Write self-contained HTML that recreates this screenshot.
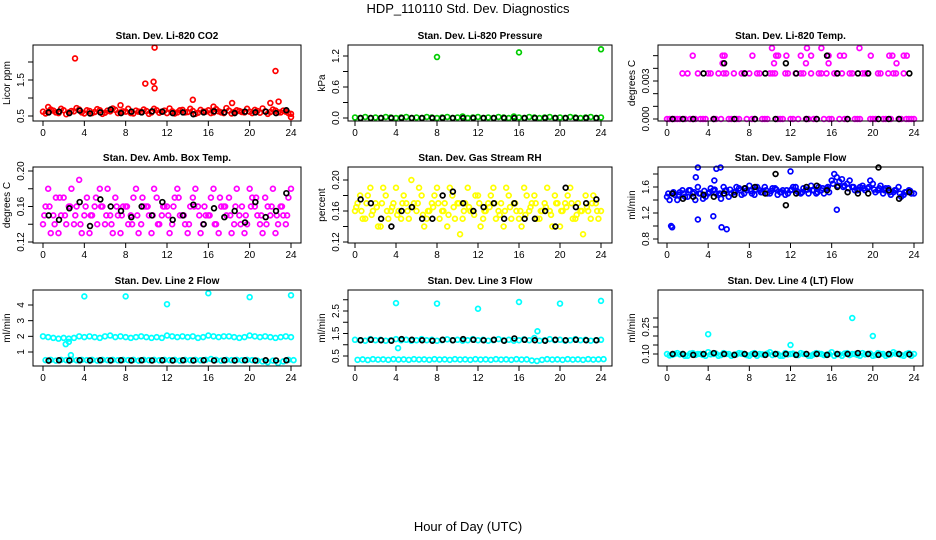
<!DOCTYPE html>
<html><head><meta charset="utf-8"><style>
body{margin:0;background:#fff}
svg{display:block;font-family:"Liberation Sans",sans-serif}
</style></head><body>
<svg id="chart" width="936" height="540" viewBox="0 0 936 540">
<text x="468" y="13" text-anchor="middle" font-size="13">HDP_110110  Std. Dev. Diagnostics</text>
<text x="468" y="531" text-anchor="middle" font-size="13">Hour of Day (UTC)</text>
</svg>
<script>
const xTicks=[0,4,8,12,16,20,24];
// Panel 1 CO2
const co2A=[0.62,0.6,0.65,0.58,0.66,0.6,0.63,0.68,0.57,0.64,0.61,0.66,0.59,0.63,0.67,0.6,0.62,0.58,0.65,0.61,0.64,0.6,0.66,0.62,0.58,0.63,0.6,0.67,0.61,0.64,0.59,0.62,0.66,0.6,0.63,0.58,0.65,0.61,0.64,0.6,0.62,0.67,0.59,0.63,0.61,0.65,0.6,0.62,0.56];
const co2B=[0.57,0.68,0.6,0.7,0.55,0.64,0.72,0.6,0.66,0.58,0.69,0.56,0.65,0.71,0.58,0.63,0.7,0.57,0.62,0.68,0.56,0.7,0.59,0.65,0.71,0.57,0.66,0.6,0.7,0.56,0.67,0.62,0.58,0.69,0.6,0.72,0.57,0.66,0.61,0.7,0.58,0.64,0.71,0.56,0.68,0.6,0.65,0.58];
const co2OutH=[3.1,10.8,9.9,10.7,10.8,14.5,22.5,22.8,22,18.3,7.5,24,0.5,16.5];
const co2OutV=[2.1,2.4,1.4,1.45,1.27,0.95,1.75,0.9,0.86,0.86,0.8,0.47,0.75,0.76];
const co2K=[0.6,0.62,0.58,0.65,0.57,0.6,0.68,0.58,0.62,0.6,0.63,0.62,0.58,0.6,0.55,0.6,0.63,0.6,0.58,0.62,0.6,0.62,0.58,0.66];
// Panel 2 pressure
const prA=[0.01,0,0.02,0,0.01,0,0.02,0.01,0,0.01,0.02,0,0.01,0,0.02,0.01,0,0.01,0.02,0,0.01,0.03,0,0.01,0.02,0,0.01,0,0.02,0.01,0,0.03,0.01,0,0.02,0.01,0,0.01,0.02,0,0.01,0,0.02,0.01,0,0.01,0.02,0,0.01];
const prOutH=[8,16,24];
const prOutV=[1.18,1.27,1.33];
const prK=[0,0,0,0,0,0,0,0,0,0,0,0,0,0,0,0,0,0,0,0,0,0,0,0];
// Panel 3 temp
const tpA=[0,0,0,0.0036,0.0036,0,0.0036,0,0.0036,0,0.0036,0.0036,0,0.0036,0,0.0036,0.0036,0,0.0036,0,0.0036,0.0036,0,0.0036,0,0.0036,0.0036,0,0.0036,0,0.0036,0.0036,0,0.0036,0.0036,0,0.0036,0,0.0036,0.0036,0,0.0036,0,0.0036,0.0036,0,0.0036,0,0];
const tpB=[0,0,0,0,0,0,0,0,0.0036,0,0,0.0036,0,0,0.0036,0,0,0.0036,0,0,0.0036,0,0,0.0036,0,0,0.0036,0,0,0.0036,0,0,0.0036,0,0,0.0036,0,0,0.0036,0,0,0.0036,0,0,0.0036,0,0,0];
const tpOutH=[2.5,5.4,5.6,8.3,10.6,10.8,11.6,13,14,15.7,16.8,17.2,19.8,21.6,21.9,23,23.3,10.2,13.6,15,18.7,5.4,10.4,13.5,15.7,22.3];
const tpOutV=[0.005,0.005,0.005,0.005,0.005,0.005,0.005,0.005,0.005,0.005,0.005,0.005,0.005,0.005,0.005,0.005,0.005,0.0056,0.0056,0.0056,0.0056,0.0044,0.0044,0.0044,0.0044,0.0044];
const tpK=[0,0,0,0.0036,0,0.0044,0,0.0036,0,0.0036,0,0.0044,0.0036,0,0,0.005,0.0036,0,0.0036,0.0036,0,0,0,0.0036];
// Panel 4 amb box
const abA=[0.14,0.18,0.15,0.13,0.17,0.16,0.14,0.19,0.15,0.13,0.16,0.18,0.14,0.15,0.17,0.13,0.16,0.15,0.18,0.14,0.16,0.13,0.17,0.15,0.16,0.14,0.18,0.15,0.13,0.17,0.16,0.14,0.15,0.18,0.13,0.16,0.17,0.14,0.15,0.13,0.18,0.16,0.14,0.17,0.15,0.13,0.16,0.14,0.18];
const abB=[0.16,0.13,0.17,0.15,0.14,0.18,0.16,0.13,0.17,0.15,0.14,0.16,0.18,0.13,0.15,0.16,0.14,0.17,0.13,0.16,0.15,0.18,0.14,0.16,0.13,0.17,0.15,0.14,0.16,0.18,0.13,0.15,0.17,0.14,0.16,0.15,0.13,0.18,0.16,0.14,0.17,0.15,0.13,0.16,0.18,0.14,0.15,0.17];
const abC=[0.15,0.16,0.14,0.17,0.15,0.16,0.15,0.14,0.16,0.15,0.17,0.16,0.15,0.14,0.16,0.15,0.16,0.14,0.15,0.17,0.16,0.15,0.14,0.16,0.15,0.16,0.17,0.15,0.14,0.16,0.15,0.16,0.15,0.14,0.17,0.16,0.15,0.16,0.14,0.15,0.16,0.17,0.15,0.14,0.16,0.15,0.16,0.15];
const abK=[0.15,0.145,0.158,0.165,0.138,0.168,0.16,0.155,0.148,0.16,0.15,0.165,0.145,0.15,0.162,0.14,0.158,0.148,0.155,0.142,0.165,0.148,0.155,0.175];
// Panel 5 RH
const rhA=[0.16,0.18,0.15,0.19,0.17,0.14,0.18,0.16,0.19,0.15,0.17,0.2,0.16,0.18,0.15,0.17,0.19,0.16,0.14,0.18,0.17,0.15,0.19,0.16,0.18,0.15,0.17,0.19,0.16,0.14,0.18,0.17,0.15,0.19,0.16,0.18,0.15,0.17,0.16,0.18,0.14,0.17,0.19,0.15,0.16,0.18,0.15,0.17,0.16];
const rhB=[0.17,0.15,0.18,0.16,0.14,0.19,0.15,0.17,0.16,0.18,0.15,0.17,0.19,0.14,0.16,0.18,0.15,0.17,0.19,0.15,0.13,0.17,0.16,0.18,0.14,0.16,0.18,0.15,0.17,0.19,0.15,0.16,0.14,0.18,0.17,0.15,0.16,0.19,0.14,0.17,0.16,0.18,0.15,0.17,0.13,0.16,0.18,0.15];
const rhC=[0.165,0.16,0.17,0.155,0.165,0.17,0.16,0.165,0.155,0.17,0.16,0.165,0.17,0.155,0.16,0.165,0.17,0.16,0.155,0.165,0.17,0.16,0.165,0.155,0.17,0.16,0.165,0.17,0.155,0.16,0.165,0.17,0.16,0.155,0.165,0.17,0.16,0.165,0.155,0.17,0.16,0.165,0.17,0.155,0.16,0.165,0.17,0.16];
const rhK=[0.175,0.17,0.15,0.14,0.16,0.165,0.15,0.15,0.18,0.185,0.17,0.16,0.165,0.17,0.15,0.17,0.15,0.15,0.16,0.14,0.19,0.165,0.17,0.175];
// Panel 6 sample flow
const sfA=[1.45,1.5,1.4,1.55,1.45,1.5,1.6,1.42,1.5,1.55,1.48,1.6,1.45,1.52,1.58,1.5,1.62,1.48,1.55,1.6,1.5,1.58,1.52,1.48,1.55,1.6,1.5,1.56,1.62,1.5,1.55,1.58,1.7,1.75,1.72,1.65,1.6,1.55,1.62,1.58,1.65,1.55,1.5,1.58,1.52,1.6,1.48,1.55,1.5];
const sfB=[1.4,1.48,1.52,1.45,1.55,1.4,1.5,1.45,1.58,1.5,1.42,1.55,1.5,1.6,1.48,1.55,1.5,1.6,1.52,1.5,1.58,1.48,1.55,1.5,1.6,1.52,1.58,1.5,1.55,1.6,1.5,1.52,1.8,1.68,1.62,1.7,1.55,1.6,1.55,1.7,1.52,1.62,1.58,1.48,1.55,1.45,1.52,1.5];
const sfC=[1.5,1.52,1.48,1.5,1.55,1.52,1.5,1.54,1.52,1.56,1.5,1.54,1.56,1.52,1.55,1.58,1.54,1.56,1.52,1.55,1.54,1.56,1.52,1.55,1.56,1.54,1.52,1.56,1.55,1.52,1.58,1.6,1.65,1.62,1.6,1.58,1.6,1.56,1.58,1.6,1.56,1.58,1.55,1.52,1.55,1.5,1.52,1.54];
const sfOutH=[0.4,0.5,5.3,5.8,3,4.5,4.8,5.2,3,4.6,2.8,12,16.5];
const sfOutV=[1.0,0.98,0.98,0.95,1.1,1.15,1.88,1.9,1.9,1.7,1.75,1.84,1.25];
const sfK=[1.5,1.42,1.45,1.48,1.45,1.5,1.48,1.58,1.6,1.5,1.8,1.32,1.5,1.6,1.62,1.55,1.6,1.52,1.5,1.5,1.9,1.55,1.42,1.52];
// Panel 7 line 2
const l2A=[2.0,1.95,1.9,1.85,1.9,1.85,1.9,2.0,1.95,2.0,1.95,1.9,2.0,2.05,1.95,2.0,1.95,1.9,1.95,2.0,1.95,1.9,1.95,1.9,2.05,2.0,1.95,2.0,1.95,2.0,1.9,1.95,2.05,2.0,1.95,2.0,2.0,1.95,1.9,1.95,2.05,2.0,1.95,2.0,1.95,1.9,1.95,2.0,1.95];
const l2B=[0.48,0.5,0.45,0.5,0.48,0.5,0.47,0.5,0.48,0.5,0.45,0.5,0.48,0.5,0.47,0.5,0.48,0.5,0.45,0.5,0.48,0.5,0.47,0.5,0.48,0.5,0.45,0.5,0.48,0.5,0.47,0.5,0.55,0.5,0.45,0.5,0.48,0.5,0.47,0.5,0.48,0.45,0.4,0.35,0.45,0.3,0.4,0.5,0.48];
const l2OutH=[4,8,12,16,20,24,2.2,2.5,2.7];
const l2OutV=[4.55,4.55,4.05,4.75,4.5,4.62,1.5,1.65,0.8];
const l2K=[0.45,0.47,0.46,0.47,0.46,0.47,0.46,0.47,0.46,0.47,0.46,0.47,0.46,0.47,0.46,0.47,0.46,0.47,0.46,0.47,0.46,0.47,0.46,0.47];
// Panel 8 line 3
const l3A=[1.22,1.2,1.18,1.25,1.2,1.22,1.18,1.2,1.25,1.2,1.22,1.18,1.2,1.25,1.2,1.22,1.18,1.2,1.24,1.2,1.22,1.18,1.2,1.25,1.2,1.22,1.18,1.2,1.25,1.2,1.22,1.18,1.2,1.24,1.2,1.3,1.18,1.2,1.25,1.2,1.22,1.18,1.2,1.25,1.2,1.22,1.18,1.2,1.22];
const l3B=[0.33,0.35,0.32,0.36,0.34,0.35,0.33,0.36,0.34,0.35,0.33,0.36,0.34,0.35,0.33,0.36,0.34,0.35,0.33,0.36,0.34,0.35,0.33,0.36,0.34,0.35,0.33,0.36,0.34,0.35,0.33,0.36,0.34,0.35,0.3,0.28,0.33,0.36,0.34,0.35,0.33,0.36,0.34,0.35,0.33,0.36,0.34,0.35,0.36];
const l3OutH=[4,8,12,16,20,24,17.8,4.2];
const l3OutV=[2.85,2.83,2.6,2.9,2.83,2.95,1.6,0.85];
const l3K=[1.2,1.22,1.2,1.18,1.25,1.22,1.2,1.18,1.22,1.2,1.25,1.22,1.2,1.22,1.18,1.28,1.22,1.2,1.18,1.22,1.2,1.22,1.2,1.2];
// Panel 9 line 4
const l4A=[0.1,0.095,0.105,0.1,0.09,0.105,0.1,0.095,0.11,0.1,0.09,0.105,0.1,0.095,0.105,0.1,0.09,0.105,0.1,0.095,0.11,0.1,0.09,0.105,0.1,0.095,0.105,0.1,0.09,0.105,0.1,0.095,0.11,0.1,0.09,0.105,0.1,0.095,0.105,0.1,0.09,0.105,0.1,0.095,0.11,0.1,0.09,0.105,0.1];
const l4B=[0.092,0.1,0.098,0.09,0.102,0.095,0.1,0.09,0.098,0.102,0.094,0.1,0.09,0.098,0.102,0.094,0.1,0.09,0.098,0.102,0.094,0.1,0.09,0.098,0.102,0.094,0.1,0.09,0.098,0.102,0.094,0.1,0.09,0.098,0.102,0.094,0.1,0.09,0.098,0.102,0.094,0.1,0.09,0.098,0.102,0.094,0.1,0.09];
const l4OutH=[4,12,18,20];
const l4OutV=[0.21,0.15,0.3,0.2];
const l4K=[0.1,0.1,0.095,0.1,0.105,0.1,0.095,0.1,0.1,0.095,0.1,0.1,0.095,0.1,0.1,0.095,0.1,0.1,0.105,0.1,0.095,0.1,0.1,0.098];

const cols=[{l:33,r:301,x0:43,x24:291},{l:348,r:612,x0:355,x24:601},{l:658,r:923,x0:667,x24:914}];
const rows=[{t:45,b:121},{t:167,b:243},{t:290,b:366}];
const panels=[
{name:'co2',title:'Stan. Dev. Li-820 CO2',yt:'Licor ppm',c:0,r:0,v0:0.5,p0:116,v1:1.5,p1:80,ticks:[0.5,1,1.5,2],labs:['0.5','','1.5',''],col:'#ff0000',sets:[co2A,co2B],oh:co2OutH,ov:co2OutV,k:co2K},
{name:'pressure',title:'Stan. Dev. Li-820 Pressure',yt:'kPa',c:1,r:0,v0:0,p0:118,v1:1.2,p1:56,ticks:[0,0.3,0.6,0.9,1.2],labs:['0.0','','0.6','','1.2'],col:'#00cc00',sets:[prA],oh:prOutH,ov:prOutV,k:prK},
{name:'temp',title:'Stan. Dev. Li-820 Temp.',yt:'degrees C',c:2,r:0,v0:0,p0:119,v1:0.003,p1:81,ticks:[0,0.001,0.002,0.003,0.004,0.005],labs:['0.000','','','0.003','',''],col:'#ff00ff',sets:[tpA,tpB],oh:tpOutH,ov:tpOutV,k:tpK},
{name:'ambbox',title:'Stan. Dev. Amb. Box Temp.',yt:'degrees C',c:0,r:1,v0:0.12,p0:242,v1:0.2,p1:171,ticks:[0.12,0.14,0.16,0.18,0.2],labs:['0.12','','0.16','','0.20'],col:'#ff00ff',sets:[abA,abB,abC],oh:[],ov:[],k:abK},
{name:'rh',title:'Stan. Dev. Gas Stream RH',yt:'percent',c:1,r:1,v0:0.12,p0:242,v1:0.2,p1:180,ticks:[0.12,0.14,0.16,0.18,0.2],labs:['0.12','','0.16','','0.20'],col:'#ffff00',sets:[rhA,rhB,rhC],oh:[],ov:[],k:rhK},
{name:'sampleflow',title:'Stan. Dev. Sample Flow',yt:'ml/min',c:2,r:1,v0:0.8,p0:239,v1:1.6,p1:187,ticks:[0.8,1.0,1.2,1.4,1.6,1.8],labs:['0.8','','1.2','','1.6',''],col:'#0000ff',sets:[sfA,sfB,sfC],oh:sfOutH,ov:sfOutV,k:sfK},
{name:'line2',title:'Stan. Dev. Line 2 Flow',yt:'ml/min',c:0,r:2,v0:1,p0:352,v1:4,p1:305,ticks:[1,2,3,4],labs:['1','2','3','4'],col:'#00ffff',sets:[l2A,l2B],oh:l2OutH,ov:l2OutV,k:l2K},
{name:'line3',title:'Stan. Dev. Line 3 Flow',yt:'ml/min',c:1,r:2,v0:0.5,p0:356,v1:2.5,p1:311,ticks:[0.5,1,1.5,2,2.5,3],labs:['0.5','','1.5','','2.5',''],col:'#00ffff',sets:[l3A,l3B],oh:l3OutH,ov:l3OutV,k:l3K},
{name:'line4',title:'Stan. Dev. Line 4 (LT) Flow',yt:'ml/min',c:2,r:2,v0:0.1,p0:354,v1:0.25,p1:327,ticks:[0.1,0.15,0.2,0.25,0.3],labs:['0.10','','','0.25',''],col:'#00ffff',sets:[l4A,l4B],oh:l4OutH,ov:l4OutV,k:l4K}
];
const svg=document.getElementById('chart');
const NS='http://www.w3.org/2000/svg';
function mk(tag,attrs,parent){const e=document.createElementNS(NS,tag);for(const a in attrs)e.setAttribute(a,attrs[a]);parent.appendChild(e);return e;}
const offs=[0,0.25,0.125];
panels.forEach(p=>{
  const C=cols[p.c],R=rows[p.r];
  const g=mk('g',{},svg);
  
  
  const xs=h=>C.x0+(C.x24-C.x0)*h/24;
  const ys=v=>p.p0+(p.p1-p.p0)*(v-p.v0)/(p.v1-p.v0);
  const t=mk('text',{x:(C.l+C.r)/2,y:R.t-6,'text-anchor':'middle','font-size':10,'font-weight':'bold'},g);
  t.textContent=p.title;
  
  
  const pts=mk('g',{fill:'none','stroke-width':1.7},g);
  
  
  function dot(h,v,col){const c=mk('circle',{cx:xs(h),cy:ys(v),r:2.4,stroke:col},pts);
    
    }
  p.sets.forEach((s,si)=>s.forEach((v,i)=>dot(i*0.5+offs[si],v,p.col)));
  p.oh.forEach((h,i)=>dot(h,p.ov[i],p.col));
  p.k.forEach((v,i)=>dot(i+0.55,v,'#000'));
  const box=mk('rect',{x:C.l,y:R.t,width:C.r-C.l,height:R.b-R.t,fill:'none',stroke:'#000','stroke-width':1},g);
  
  
  xTicks.forEach(h=>{
    mk('line',{x1:xs(h),x2:xs(h),y1:R.b,y2:R.b+5,stroke:'#000'},g);
    const tx=mk('text',{x:xs(h),y:R.b+15,'text-anchor':'middle','font-size':10},g);
    tx.textContent=h;
    
    
  });
  p.ticks.forEach((v,i)=>{
    const y=ys(v); if(y<R.t-1)return;
    mk('line',{x1:C.l-5,x2:C.l,y1:y,y2:y,stroke:'#000'},g);
    if(p.labs[i]){const ty=mk('text',{x:C.l-9,y:y,'text-anchor':'middle','font-size':10,transform:`rotate(-90 ${C.l-9} ${y})`},g);
      ty.textContent=p.labs[i];
      
      }
  });
  const cy=(R.t+R.b)/2;
  const yt=mk('text',{x:C.l-23,y:cy,'text-anchor':'middle','font-size':10,transform:`rotate(-90 ${C.l-23} ${cy})`},g);
  yt.textContent=p.yt;
  
  
});
</script>
</body></html>
